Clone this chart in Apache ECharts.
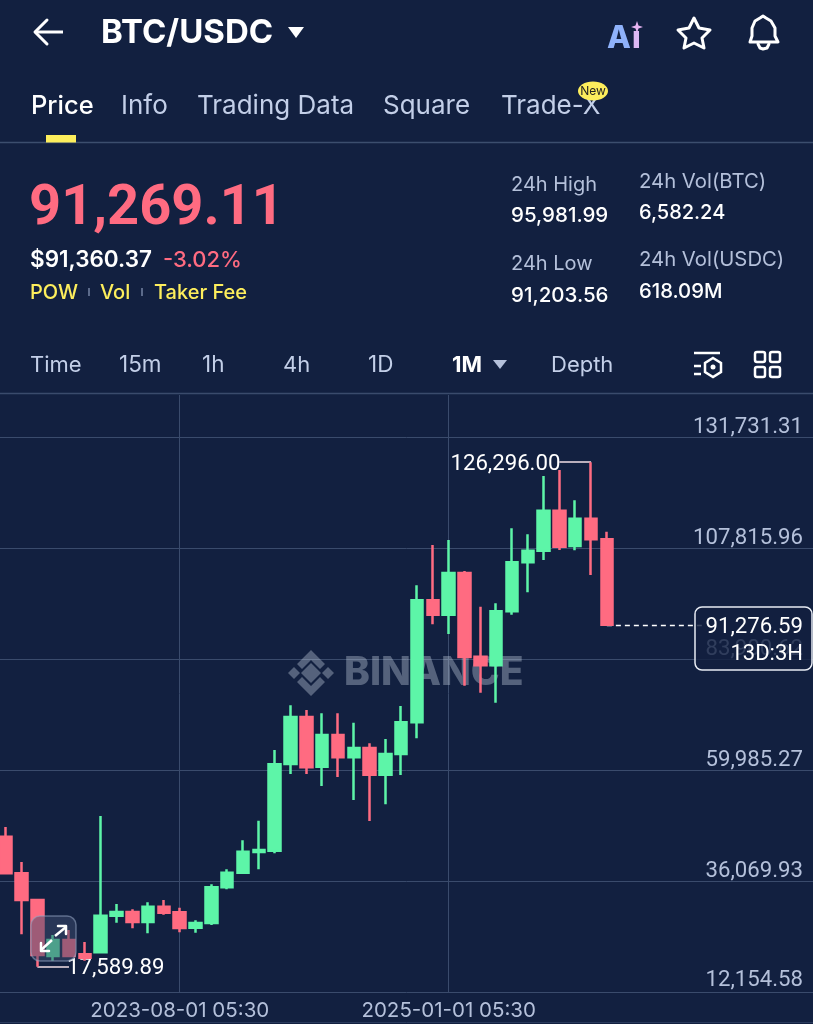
<!DOCTYPE html>
<html><head><meta charset="utf-8">
<style>html,body{margin:0;padding:0;background:#122040}#c{width:813px;height:1024px}</style>
<script src="https://cdn.jsdelivr.net/npm/echarts@6/dist/echarts.min.js"></script>
</head><body><div id="c"></div>
<script>
const categories = [
'2022-09','2022-10','2022-11','2022-12','2023-01','2023-02','2023-03','2023-04','2023-05','2023-06','2023-07','2023-08',
'2023-09','2023-10','2023-11','2023-12','2024-01','2024-02','2024-03','2024-04','2024-05','2024-06','2024-07','2024-08',
'2024-09','2024-10','2024-11','2024-12','2025-01','2025-02','2025-03','2025-04','2025-05','2025-06','2025-07','2025-08',
'2025-09','2025-10','2025-11','2025-12','2026-01','2026-02','2026-03','2026-04','2026-05','2026-06','2026-07','2026-08',
'2026-09','2026-10','2026-11','2026-12'];
const opens = [45616,37730,31978,19912,23360,20279,20710,28595,29392,27238,30535,29328,26010,27022,34714,37859,42319,42599,61279,71405,60698,67527,62722,64726,58974,63433,70263,96548,93446,102430,84397,82544,94178,104735,107234,115852,108247,114129,109690];
const closes = [37730,31978,20128,23360,19912,19547,28595,29392,27238,30535,29241,25945,27022,34714,37859,42384,42750,61214,71405,60568,67527,62722,64726,58974,63433,70263,96548,93446,102430,84332,82544,94178,104735,107234,115852,108096,114129,109690,91276.59];
const lows = [37730,24588,17589.89,18900,19697,18900,20710,27087,25880,24803,28811,25019,24932,26591,34283,37730,38592,42039,59124,59124,56539,58478,53523,48998,52596,58909,66816,91377,89287,78149,76640,74486,93446,98272,105231,107385,107321,101999,91276.59];
const highs = [47705,40165,32193,24437,25514,22929,50075,31116,29975,31482,31978,30318,27604,35361,38592,44840,49063,64295,73926,72913,72202,72202,70177,65739,66665,73775,99780,108462,109540,102861,95169,95902,112061,110768,123328,124621,118093,126296,111328];
const yTicks = [12154.58,36069.93,59985.27,83900.62,107815.96,131731.31];
const xLabelIndexes = [11,28];
const xLabelTexts = {11:'2023-08-01 05:30',28:'2025-01-01 05:30'};
const highValue = 126296.00, lowValue = 17589.89, lastValue = 91276.59;
const yMin = 12154.58, yMax = 140780;

const UP='#5df5a8', DOWN='#ff6b81', BG='#122040', GRID='#3a4b6c', MUTED='#b4c0da', FAM='Inter, "Noto Sans", sans-serif', NUM='Roboto, Inter, sans-serif';
const fmt = v => v.toLocaleString('en-US',{minimumFractionDigits:2,maximumFractionDigits:2});

function T(text,x,y,size,fill,weight,align,z,fam){
  return {type:'text',z:z||50,silent:true,style:{text,x,y:y+1.5,fill,align:align||'left',verticalAlign:'middle',
    font:(weight||400)+' '+size+'px '+(fam||FAM)}};
}
function P(points,stroke,w,z){return {type:'polyline',z:z||50,silent:true,shape:{points},style:{stroke,lineWidth:w||3,fill:null,lineCap:'round',lineJoin:'round'}};}
function G(points,fill,z){return {type:'polygon',z:z||50,silent:true,shape:{points},style:{fill}};}
function R(x,y,w,h,fill,r,stroke,lw,z){return {type:'rect',z:z||50,silent:true,shape:{x,y,width:w,height:h,r:r||0},style:{fill,stroke:stroke||null,lineWidth:lw||0}};}
function L(x1,y1,x2,y2,c,w,z){return {type:'line',z:z||50,silent:true,shape:{x1,y1,x2,y2},style:{stroke:c,lineWidth:w||1}};}

const WM='rgba(205,215,230,0.36)';
const chrome = [
  // top bar
  P([[47,20],[35,32],[47,44]],'#fff',3), L(35,32,63,32,'#fff',3),
  T('BTC/USDC',101,32,33,'#fff',700),
  G([[288,27],[304,27],[296,38]],'#fff'),
  T('A',607,37,31,'#8fb2fb',800),
  T('\u0131',632,37,31,'#dcb8f4',800),
  G([[637,21],[638.5,25.5],[643,27],[638.5,28.5],[637,33],[635.5,28.5],[631,27],[635.5,25.5]],'#e6b4f2'),
  {type:'polygon',z:50,silent:true,shape:{points:[[694,18],[699,28],[710,30],[702,38],[704,48],[694,43],[684,48],[686,38],[678,30],[689,28]]},style:{fill:null,stroke:'#fff',lineWidth:3,lineJoin:'round'}},
  P([[750,42],[752,36],[752,28],[755,21],[760,18],[763,16],[766,18],[771,21],[775,28],[775,36],[778,42],[750,42]],'#fff',3),
  P([[758,44],[760,48],[763,49],[767,48],[769,44]],'#fff',3),
  // tabs
  T('Price',31,105,25.5,'#fff',500),
  T('Info',121,105,26,'#c3cfe8',400),
  T('Trading Data',197,105,26,'#c3cfe8',400),
  T('Square',383,105,26,'#c3cfe8',400),
  T('Trade-X',501,105,26,'#c3cfe8',400),
  {type:'ellipse',z:51,silent:true,shape:{cx:593,cy:91,rx:15,ry:9.5},style:{fill:'#fdee5c'}},
  T('New',593,89.5,12,'#222',400,'center',52),
  L(0,142.5,813,142.5,'#3c4e6e',1.5),
  R(46,135,30,7.5,'#fdee5c'),
  // price block
  T('91,269.11',29,208,56,DOWN,700,'left',50,NUM),
  T('$91,360.37',30,259,22.5,'#fff',600),
  T('-3.02%',163,259,22,DOWN,500),
  T('POW',30,291,20,'#fdee5c',500),
  T('Vol',100,291,20,'#fdee5c',500),
  T('Taker Fee',154,291,20,'#fdee5c',500),
  L(89,288,89,296,'#5b6a8a',2), L(142,288,142,296,'#5b6a8a',2),
  T('24h High',511,183.5,20,MUTED),
  T('95,981.99',511,214.5,20.5,'#fff',500),
  T('24h Low',511,262.5,20,MUTED),
  T('91,203.56',511,294.5,20.5,'#fff',500),
  T('24h Vol(BTC)',639,180.5,20.3,MUTED),
  T('6,582.24',639,211.5,20,'#fff',500),
  T('24h Vol(USDC)',639,258.5,20.3,MUTED),
  T('618.09M',639,290.5,20.3,'#fff',500),
  // interval row
  T('Time',30,363.5,22,'#c3cfe8'),
  T('15m',119,363.5,22.5,'#c3cfe8'),
  T('1h',202,363.5,22.5,'#c3cfe8'),
  T('4h',283,363.5,22,'#c3cfe8'),
  T('1D',368,363.5,22.5,'#c3cfe8'),
  T('1M',452,363.5,22,'#fff',700),
  G([[493,360],[507,360],[500,369]],'#b4c0da'),
  T('Depth',551,363.5,22,'#c3cfe8'),
  L(694,353,720,353,'#fff',2.5), L(694,366,701,366,'#fff',2.5), L(694,374,701,374,'#fff',2.5),
  {type:'polygon',z:50,silent:true,shape:{points:[[713,358],[721,363],[721,372],[713,377],[705,372],[705,363]]},style:{fill:null,stroke:'#fff',lineWidth:2.5}},
  {type:'circle',z:50,silent:true,shape:{cx:713,cy:367,r:2.5},style:{fill:'#fff'}},
  R(755,352,10,10,null,2,'#fff',2.5), R(770,352,10,10,null,2,'#fff',2.5),
  R(755,367,10,10,null,2,'#fff',2.5), R(770,367,10,10,null,2,'#fff',2.5),
  L(0,393.5,813,393.5,'#3a4b6c',1.5),
  L(0,1022.5,813,1022.5,'#2a3a5c',1),
  // watermark
  T('BINANCE',344,671.5,39,WM,800,'left',1),
  G([[311,663],[321,673],[311,683],[301,673]],WM,1),
  G([[311,650],[325,664],[320,669],[311,660],[302,669],[297,664]],WM,1),
  G([[311,696],[325,682],[320,677],[311,686],[302,677],[297,682]],WM,1),
  G([[294,667],[300,673],[294,679],[288,673]],WM,1),
  G([[328,667],[334,673],[328,679],[322,673]],WM,1),
  // expand button
  R(31,916,45,45,'rgba(62,76,110,0.5)',9,'rgba(150,165,195,0.55)',1.5,60),
  L(41,950,52,940,'#fff',2.5,61), P([[41,943],[41,951],[49,951]],'#fff',2.5,61),
  L(55,936,66,927,'#fff',2.5,61), P([[58,926],[66,926],[66,934]],'#fff',2.5,61),
  // last price tag
  R(695,607,117,63,'rgba(18,32,64,0.82)',7,'#e8ecf4',1.5,60),
  T('91,276.59',803,625.5,22.2,'#fff',400,'right',61,NUM),
  T('13D:3H',803,653,22,'#fff',400,'right',61,NUM)
];

const chart = echarts.init(document.getElementById('c'));
chart.setOption({
  animation:false,
  backgroundColor:BG,
  grid:{left:-2.2,top:395,width:15.82*52,bottom:32,containLabel:false,outerBoundsMode:'none'},
  xAxis:{type:'category',data:categories,boundaryGap:true,
    axisLine:{show:false},
    axisTick:{show:false,alignWithLabel:true},
    splitLine:{show:true,alignWithLabel:true,interval:i=>xLabelIndexes.includes(i),lineStyle:{color:GRID,width:1}},
    axisLabel:{interval:i=>xLabelIndexes.includes(i),formatter:(v,i)=>xLabelTexts[i]||'',color:MUTED,fontSize:20.5,fontFamily:FAM,margin:8.5,hideOverlap:false}},
  yAxis:{type:'value',position:'right',min:yMin,max:yMax,
    axisLine:{show:false},axisTick:{show:false,customValues:yTicks},
    splitLine:{show:true,lineStyle:{color:GRID,width:1}},
    axisLabel:{inside:true,customValues:yTicks,
      formatter:v=>v===yMin?'{m|'+fmt(v)+'}':fmt(v),
      rich:{m:{lineHeight:24,fontSize:22.2,fontFamily:NUM,color:MUTED}},
      color:MUTED,fontSize:22.2,lineHeight:20,fontFamily:NUM,margin:17.4,verticalAlign:'bottom',align:'right',verticalAlignMinLabel:'bottom',verticalAlignMaxLabel:'bottom',showMinLabel:true,showMaxLabel:true}},
  series:[{type:'candlestick',clip:false,barWidth:12,z:5,
    data:opens.map((o,i)=>[o,closes[i],lows[i],highs[i]]),
    itemStyle:{color:UP,color0:DOWN,borderColor:UP,borderColor0:DOWN,borderWidth:2.5},
    markLine:{silent:true,symbol:'none',animation:false,z:3,precision:2,
      data:[
        [{coord:[38,lastValue],lineStyle:{color:'#fff',type:[5,4],width:1.3},label:{show:false}},{coord:[44,lastValue]}],
        [{coord:[37,highValue],lineStyle:{color:'#f3dfe6',type:'solid',width:1.5},label:{show:true,position:'end',formatter:fmt(highValue),color:'#fff',fontSize:22.2,fontFamily:NUM,distance:0,offset:[1,2]}},{coord:[35,highValue]}],
        [{coord:[2,lowValue],lineStyle:{color:'#f3dfe6',type:'solid',width:1.5},label:{show:true,position:'end',formatter:fmt(lowValue),color:'#fff',fontSize:22.2,fontFamily:NUM,distance:0,offset:[-2,2]}},{coord:[4,lowValue]}]
      ]}
  }],
  graphic:{elements:chrome}
});
</script></body></html>
